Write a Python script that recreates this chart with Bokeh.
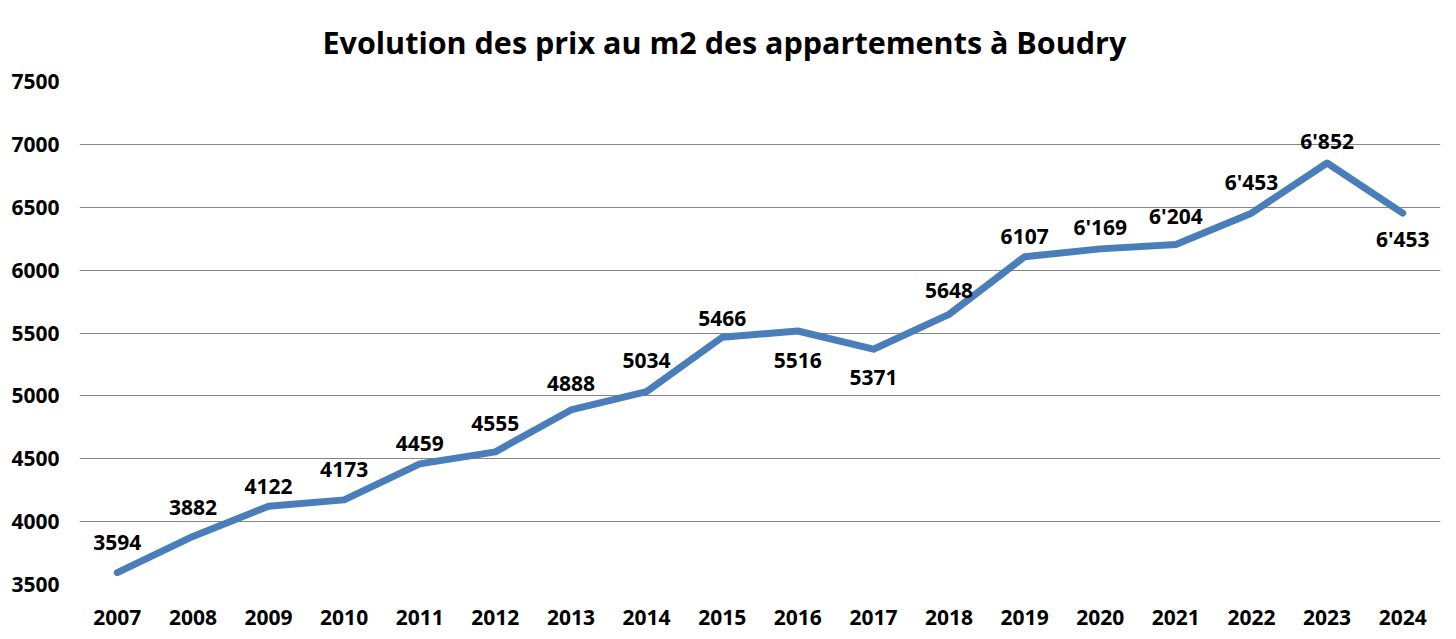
from bokeh.plotting import figure
from bokeh.models import ColumnDataSource, Range1d, FactorRange, SingleIntervalTicker
from bokeh.core.properties import value
from bokeh.embed import file_html
from bokeh.resources import INLINE

title_text = "Evolution des prix au m2 des appartements à Boudry"
years = [str(y) for y in range(2007, 2025)]
prices = [3594, 3882, 4122, 4173, 4459, 4555, 4888, 5034, 5466, 5516, 5371,
          5648, 6107, 6169, 6204, 6453, 6852, 6453]
labels = ["3594", "3882", "4122", "4173", "4459", "4555", "4888", "5034", "5466",
          "5516", "5371", "5648", "6107", "6'169", "6'204", "6'453", "6'852", "6'453"]
# label placement (screen px, negative = above the point)
label_dy = [-30, -29, -20, -30, -20, -28, -26, -31, -19, 30, 28, -24, -20, -22,
            -28, -31, -22, 26]

FONT = "Open Sans"

p = figure(frame_width=1361, frame_height=503, x_range=FactorRange(*years),
           y_range=Range1d(3500, 7500), output_backend="svg",
           toolbar_location=None, min_border_left=79, min_border_right=7,
           min_border_top=74, min_border_bottom=46)

p.title.text = title_text
p.title.align = "left"
p.title.offset = 243
p.title.text_font = FONT
p.title.text_font_size = "30.5px"
p.title.text_font_style = "bold"
p.title.text_color = "black"
p.title.standoff = 37

src = ColumnDataSource(dict(x=years, y=prices, t=labels, dy=label_dy))
p.line("x", "y", source=src, line_color="#4a7ebb", line_width=7,
       line_cap="round", line_join="round")
p.text("x", "y", text="t", y_offset="dy", source=src, text_align="center",
       text_baseline="middle", text_font=value(FONT), text_font_size="21px",
       text_font_style="bold", text_color="black")

p.yaxis.ticker = SingleIntervalTicker(interval=500)
for ax in (p.xaxis[0], p.yaxis[0]):
    ax.axis_line_color = None
    ax.major_tick_line_color = None
    ax.minor_tick_line_color = None
    ax.major_label_text_font = FONT
    ax.major_label_text_font_size = "21px"
    ax.major_label_text_font_style = "bold"
    ax.major_label_text_color = "black"
p.yaxis.major_label_standoff = 14
p.xaxis.major_label_standoff = 19

p.xgrid.grid_line_color = None
p.ygrid.grid_line_color = "#868686"
p.ygrid.grid_line_width = 1
p.outline_line_color = None
p.background_fill_color = "white"
p.border_fill_color = "white"

open("out.html", "w").write(file_html(p, INLINE))
